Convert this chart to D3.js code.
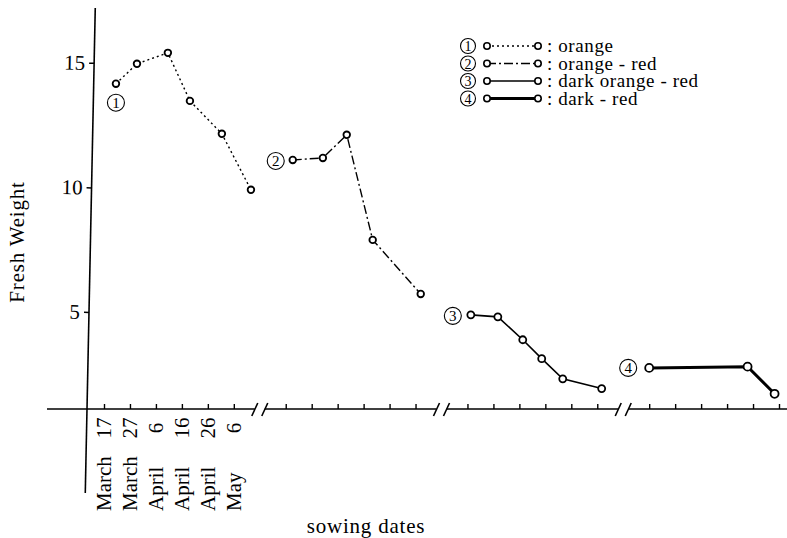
<!DOCTYPE html>
<html>
<head>
<meta charset="utf-8">
<script src="https://cdn.jsdelivr.net/npm/d3@7"></script>
<style>
body { margin: 0; background: #fff; }
svg text { font-family: "Liberation Serif", "DejaVu Serif", serif; fill: #000; }
</style>
</head>
<body>
<svg id="chart" width="787" height="538"></svg>
<script>
// date labels of the broken x axis (only the first panel is labelled)
var dateMonths = ["March", "March", "April", "April", "April", "May"];
var dateDays = ["17", "27", "6", "16", "26", "6"];
var panelStart = [0, 7, 14, 21];   // slot where each panel starts
var yTicks = [5, 10, 15];

// fresh weight; x is in date slots counted from the panel start
var orangeX = [0.46, 1.27, 2.46, 3.31, 4.54, 5.66];
var orangeY = [14.16, 14.96, 15.40, 13.47, 12.15, 9.90];
var orangeRedX = [0.27, 1.43, 2.35, 3.35, 5.2];
var orangeRedY = [11.10, 11.18, 12.11, 7.89, 5.72];
var darkOrangeRedX = [0.13, 1.17, 2.13, 2.86, 3.67, 5.17];
var darkOrangeRedY = [4.88, 4.80, 3.88, 3.12, 2.31, 1.92];
var darkRedX = [0, 3.79, 4.83];
var darkRedY = [2.75, 2.80, 1.71];

var legendNames = ["orange", "orange - red", "dark orange - red", "dark - red"];

var svg = d3.select("#chart");

var x = d3.scaleLinear().domain([0, 26]).range([104, 779]);
var y = d3.scaleLinear().domain([1.1, 17.2]).range([409, 8]);
var axisY = y(1.1);

var series = [
    {num: "1", xs: orangeX, ys: orangeY, panel: 0, dash: "2,3", width: 1.4, r: 3.3, lx: 0, ly: 19},
    {num: "2", xs: orangeRedX, ys: orangeRedY, panel: 1, dash: "9,3,2,3", width: 1.4, r: 3.3, lx: -17, ly: 1},
    {num: "3", xs: darkOrangeRedX, ys: darkOrangeRedY, panel: 2, dash: null, width: 1.6, r: 3.5, lx: -18, ly: 1},
    {num: "4", xs: darkRedX, ys: darkRedY, panel: 3, dash: null, width: 3, r: 4, lx: -21, ly: 0}
];

function circledNumber(g, cx, cy, num, rad, size) {
    g.append("circle")
        .attr("cx", cx).attr("cy", cy).attr("r", rad)
        .attr("fill", "none").attr("stroke", "#000").attr("stroke-width", 1.1);
    g.append("text")
        .attr("x", cx).attr("y", cy)
        .attr("dy", "0.36em")
        .attr("text-anchor", "middle")
        .style("font-size", size + "px")
        .text(num);
}

// y axis, slightly tilted like the printed figure
var yAxisG = svg.append("g")
    .attr("transform", "translate(87,0) rotate(1.18,0," + axisY + ")");
yAxisG.call(d3.axisLeft(y).tickValues(yTicks).tickSize(5).tickPadding(4).tickFormat(d3.format("d")));
yAxisG.select(".domain").remove();
yAxisG.selectAll(".tick line").attr("stroke-width", 1.5);
yAxisG.selectAll(".tick text").style("font-size", "21px").style("font-family", "Liberation Serif");
yAxisG.append("line")
    .attr("x1", 0).attr("x2", 0)
    .attr("y1", 8).attr("y2", 493)
    .attr("stroke", "#000").attr("stroke-width", 1.6);

// x axis with breaks between the panels
var breaks = [x(6), x(13), x(20)];
var segs = [[47, breaks[0] - 5]];
segs.push([breaks[0] + 5, breaks[1] - 5]);
segs.push([breaks[1] + 5, breaks[2] - 5]);
segs.push([breaks[2] + 5, 787]);

svg.selectAll(".xseg")
    .data(segs)
    .enter().append("line")
    .attr("class", "xseg")
    .attr("x1", d => d[0]).attr("x2", d => d[1])
    .attr("y1", axisY).attr("y2", axisY)
    .attr("stroke", "#000").attr("stroke-width", 1.6);

breaks.forEach(function(b) {
    [-5, 5].forEach(function(o) {
        svg.append("line")
            .attr("x1", b + o - 3).attr("y1", axisY + 7)
            .attr("x2", b + o + 3).attr("y2", axisY - 6)
            .attr("stroke", "#000").attr("stroke-width", 1.6);
    });
});

var tickSlots = [];
panelStart.forEach(function(p) {
    dateDays.forEach(function(d, i) { tickSlots.push(p + i); });
});

var xAxisG = svg.append("g").attr("transform", "translate(0," + axisY + ")");
xAxisG.call(d3.axisBottom(x).tickValues(tickSlots).tickSize(-5).tickFormat(""));
xAxisG.select(".domain").remove();
xAxisG.selectAll(".tick line").attr("stroke-width", 1.4);

// date labels under the first panel
svg.selectAll(".day")
    .data(dateDays)
    .enter().append("text")
    .attr("class", "day")
    .attr("transform", (d, i) => "translate(" + x(i) + ",428) rotate(-90)")
    .attr("dy", "0.35em")
    .attr("text-anchor", "middle")
    .style("font-size", "21px")
    .text(d => d);

svg.selectAll(".month")
    .data(dateMonths)
    .enter().append("text")
    .attr("class", "month")
    .attr("transform", (d, i) => "translate(" + x(i) + ",511) rotate(-90)")
    .attr("dy", "0.35em")
    .attr("text-anchor", "start")
    .style("font-size", "21px")
    .text(d => d);

// axis titles
svg.append("text")
    .attr("transform", "translate(17,242) rotate(-90)")
    .attr("dy", "0.35em")
    .attr("text-anchor", "middle")
    .style("font-size", "21px")
    .style("letter-spacing", "0.8px")
    .text("Fresh  Weight");

svg.append("text")
    .attr("x", 366).attr("y", 533)
    .attr("text-anchor", "middle")
    .style("font-size", "21px")
    .style("letter-spacing", "0.8px")
    .text("sowing  dates");

// series
var line = d3.line();
series.forEach(function(s) {
    var pts = s.xs.map((v, i) => [x(panelStart[s.panel] + v), y(s.ys[i])]);
    var path = svg.append("path")
        .attr("d", line(pts))
        .attr("fill", "none")
        .attr("stroke", "#000")
        .attr("stroke-width", s.width);
    if (s.dash) path.attr("stroke-dasharray", s.dash);

    svg.selectAll(null)
        .data(pts)
        .enter().append("circle")
        .attr("cx", d => d[0]).attr("cy", d => d[1])
        .attr("r", s.r)
        .attr("fill", "#fff")
        .attr("stroke", "#000")
        .attr("stroke-width", 1.8);

    circledNumber(svg, pts[0][0] + s.lx, pts[0][1] + s.ly, s.num, 8.5, 15);
});

// legend
var legend = svg.append("g").attr("transform", "translate(468,46)");
series.forEach(function(s, i) {
    var row = legend.append("g").attr("transform", "translate(0," + (i * 17.5) + ")");
    circledNumber(row, 0, 0, s.num, 7.5, 14);
    var l = row.append("line")
        .attr("x1", 19).attr("x2", 70)
        .attr("y1", 0).attr("y2", 0)
        .attr("stroke", "#000")
        .attr("stroke-width", s.width);
    if (s.dash) l.attr("stroke-dasharray", s.dash);
    [19, 70].forEach(function(cx) {
        row.append("circle")
            .attr("cx", cx).attr("cy", 0).attr("r", 3.2)
            .attr("fill", "#fff").attr("stroke", "#000").attr("stroke-width", 1.6);
    });
    row.append("text")
        .attr("x", 79).attr("y", 0)
        .attr("dy", "0.33em")
        .style("font-size", "19px")
        .style("font-family", "Liberation Serif")
        .style("letter-spacing", "0.6px")
        .text(": " + legendNames[i]);
});
</script>
</body>
</html>
